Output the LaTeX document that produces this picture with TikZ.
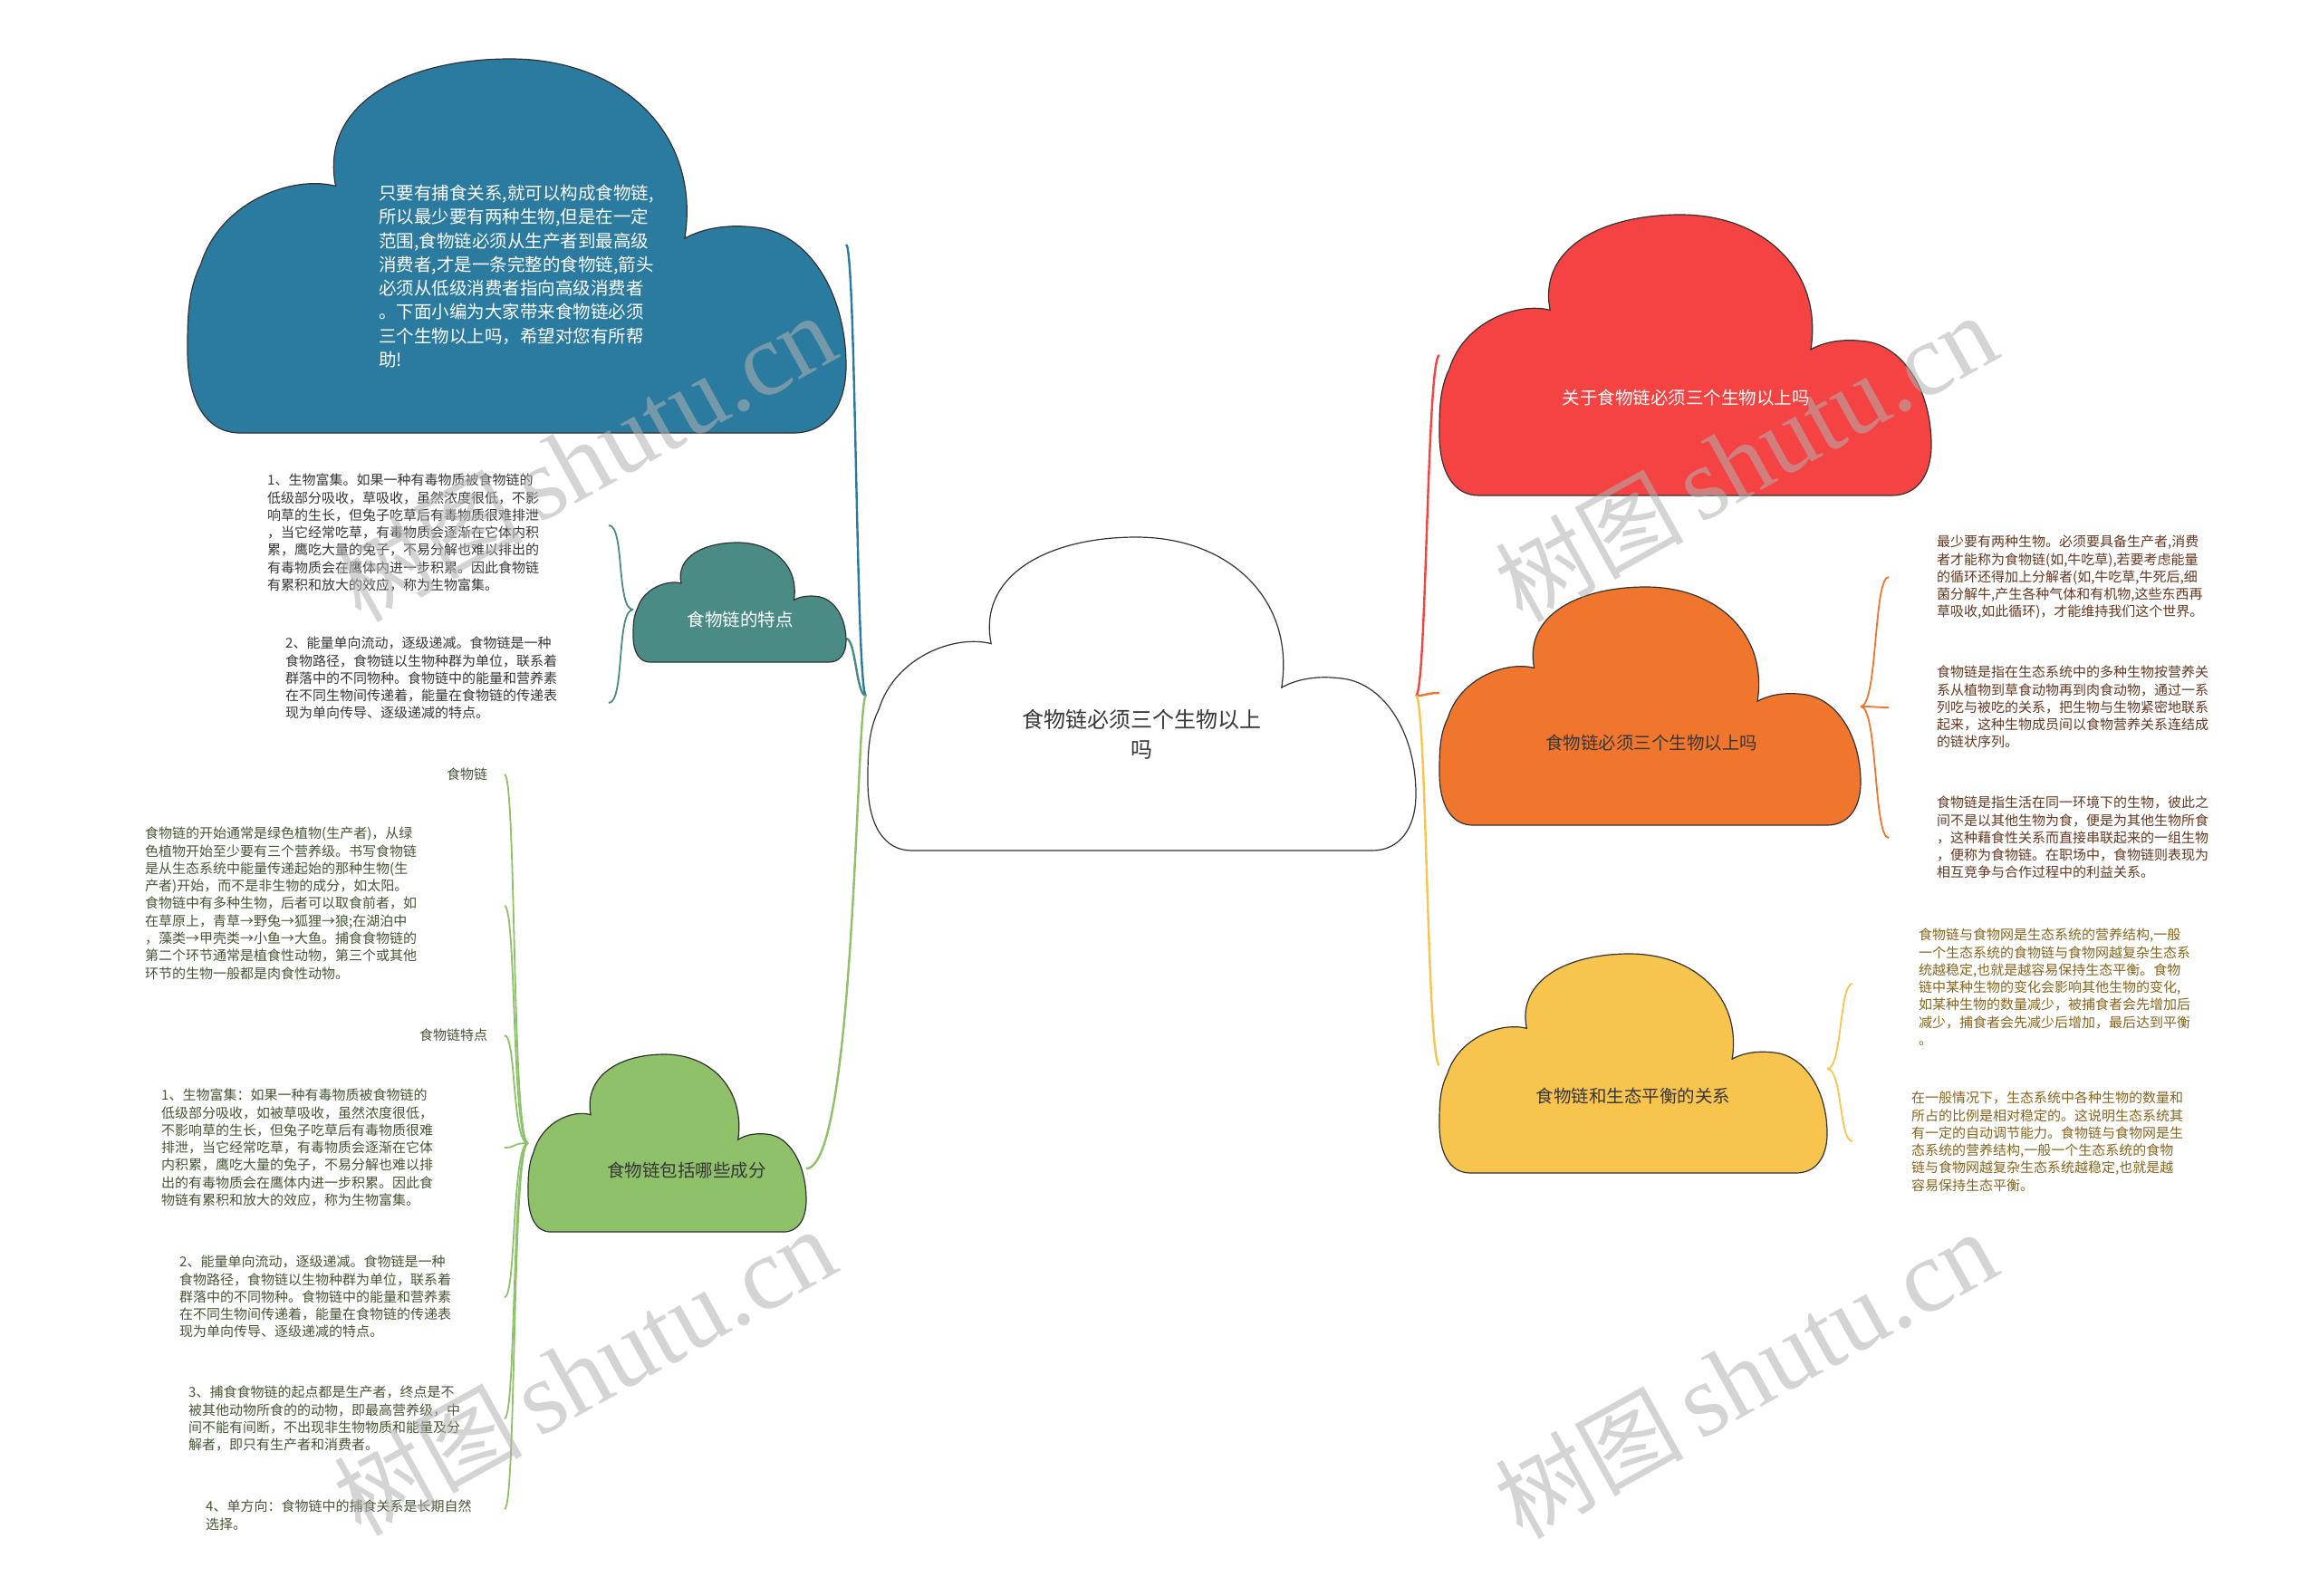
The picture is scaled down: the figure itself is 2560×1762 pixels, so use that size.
\documentclass[tikz,border=0pt]{standalone}
\usepackage{fontspec}
\setmainfont{Noto Sans CJK SC}
\newfontfamily\wmserif{Liberation Serif}
\definecolor{cblue}{RGB}{43,123,160}
\definecolor{cteal}{RGB}{74,139,133}
\definecolor{cgreen}{RGB}{143,192,106}
\definecolor{cred}{RGB}{245,66,66}
\definecolor{corange}{RGB}{240,118,45}
\definecolor{cyellow}{RGB}{247,196,78}
\definecolor{tdark}{RGB}{55,55,55}
\definecolor{tgreen}{RGB}{70,86,52}
\definecolor{tbrown}{RGB}{100,56,32}
\definecolor{tgold}{RGB}{135,100,28}
\definecolor{cedge}{RGB}{50,50,50}
\newcommand{\mycloud}[5]{%
  \begin{scope}[shift={(#1,#2)},xscale=#3,yscale=#4]
    \path[#5] (0.08,1) -- (0.92,1)
      .. controls (0.97,1) and (1.0,0.93) .. (1.0,0.82)
      .. controls (1.0,0.62) and (0.94,0.46) .. (0.86,0.45)
      .. controls (0.81,0.44) and (0.775,0.46) .. (0.755,0.48)
      .. controls (0.78,0.2) and (0.66,0) .. (0.49,0)
      .. controls (0.33,0) and (0.2,0.12) .. (0.225,0.34)
      .. controls (0.16,0.31) and (0.05,0.38) .. (0.02,0.55)
      .. controls (0,0.62) and (0,0.7) .. (0,0.78)
      .. controls (0,0.92) and (0.03,1) .. (0.08,1) -- cycle;
  \end{scope}}
\tikzset{
  cloudedge/.style={draw=cedge,line width=1.2pt},
  small/.style={font=\fontsize{15}{19.3}\selectfont,align=left,inner sep=0pt,anchor=base west},
  lbl/.style={font=\fontsize{19.5}{26}\selectfont,align=center,inner sep=0pt},
  conn/.style={line width=2.4pt},
  wm/.style={text=black!30,opacity=0.55,rotate=29,inner sep=0pt}
}
\begin{document}
\begin{tikzpicture}[x=1pt,y=-1pt]
\useasboundingbox[fill=white] (0,0) rectangle (2560,1762);

% ---------- connectors from the centre ----------
\coordinate (CL) at (956,768);
\coordinate (CR) at (1563,768);
\coordinate (eBlue) at (934,270);
\coordinate (eTeal) at (934,705);
\coordinate (eGreen) at (890,1290);
\coordinate (eRed) at (1589,392);
\coordinate (eOrange) at (1589,765);
\coordinate (eYellow) at (1589,1176);
\draw[conn,cblue] (CL) .. controls (945,768) and (945,270) .. (eBlue);
\draw[conn,cteal] (CL) .. controls (945,768) and (945,705) .. (eTeal);
\draw[conn,cgreen] (CL) .. controls (945,768) and (945,1290) .. (eGreen);
\draw[conn,cred] (CR) .. controls (1575,768) and (1575,392) .. (eRed);
\draw[conn,corange] (CR) .. controls (1575,768) and (1575,765) .. (eOrange);
\draw[conn,cyellow] (CR) .. controls (1575,768) and (1575,1176) .. (eYellow);

% ---------- clouds ----------
\mycloud{958}{593}{605}{346}{cloudedge,fill=white}
\mycloud{207}{65}{727}{413}{cloudedge,fill=cblue}
\mycloud{699}{599}{235}{132}{cloudedge,fill=cteal}
\mycloud{583}{1164}{307}{196}{cloudedge,fill=cgreen}
\mycloud{1589}{237}{543}{310}{cloudedge,fill=cred}
\mycloud{1589}{648}{465}{263}{cloudedge,fill=corange}
\mycloud{1589}{1053}{428}{242}{cloudedge,fill=cyellow}

% ---------- cloud labels ----------
\node[lbl,font=\fontsize{24}{33}\selectfont,text=tdark] (center) at (1260,811) {食物链必须三个生物以上\\吗};
\node[font=\fontsize{19.5}{26.3}\selectfont,align=left,inner sep=0pt,anchor=base west,text=white] (intro) at (418,404.5) {只要有捕食关系,就可以构成食物链,\\所以最少要有两种生物,但是在一定\\范围,食物链必须从生产者到最高级\\消费者,才是一条完整的食物链,箭头\\必须从低级消费者指向高级消费者\\。下面小编为大家带来食物链必须\\三个生物以上吗，希望对您有所帮\\助!};
\node[lbl,text=white] (teal) at (817,684) {食物链的特点};
\node[lbl,text=tdark] (green) at (758,1292) {食物链包括哪些成分};
\node[lbl,text=white] (red) at (1861,439) {关于食物链必须三个生物以上吗};
\node[lbl,text=tdark] (orange) at (1823,820) {食物链必须三个生物以上吗};
\node[lbl,text=tdark] (yellow) at (1803,1210) {食物链和生态平衡的关系};

% ---------- teal children (anchor = baseline of last line) ----------
\node[small,text=tdark] (t1) at (295,651.5) {1、生物富集。如果一种有毒物质被食物链的\\低级部分吸收，草吸收，虽然浓度很低，不影\\响草的生长，但兔子吃草后有毒物质很难排泄\\，当它经常吃草，有毒物质会逐渐在它体内积\\累，鹰吃大量的兔子，不易分解也难以排出的\\有毒物质会在鹰体内进一步积累。因此食物链\\有累积和放大的效应，称为生物富集。};
\node[small,text=tdark] (t2) at (315,792.9) {2、能量单向流动，逐级递减。食物链是一种\\食物路径，食物链以生物种群为单位，联系着\\群落中的不同物种。食物链中的能量和营养素\\在不同生物间传递着，能量在食物链的传递表\\现为单向传导、逐级递减的特点。};
\coordinate (tb1) at (672,580);
\coordinate (tb2) at (672,776);
\coordinate (TLc) at (699,673);
\draw[conn,cteal,line width=1.8pt] (TLc) .. controls (680,673) and (690,580) .. (tb1);
\draw[conn,cteal,line width=1.8pt] (TLc) .. controls (680,673) and (690,776) .. (tb2);

% ---------- green children ----------
\node[small,text=tgreen] (g0) at (493,860.7) {食物链};
\node[small,text=tgreen] (gd) at (160,1080.1) {食物链的开始通常是绿色植物(生产者)，从绿\\色植物开始至少要有三个营养级。书写食物链\\是从生态系统中能量传递起始的那种生物(生\\产者)开始，而不是非生物的成分，如太阳。\\食物链中有多种生物，后者可以取食前者，如\\在草原上，青草→野兔→狐狸→狼;在湖泊中\\，藻类→甲壳类→小鱼→大鱼。捕食食物链的\\第二个环节通常是植食性动物，第三个或其他\\环节的生物一般都是肉食性动物。};
\node[small,text=tgreen] (gf) at (463,1148.7) {食物链特点};
\node[small,text=tgreen] (g1) at (178,1330.5) {1、生物富集：如果一种有毒物质被食物链的\\低级部分吸收，如被草吸收，虽然浓度很低，\\不影响草的生长，但兔子吃草后有毒物质很难\\排泄，当它经常吃草，有毒物质会逐渐在它体\\内积累，鹰吃大量的兔子，不易分解也难以排\\出的有毒物质会在鹰体内进一步积累。因此食\\物链有累积和放大的效应，称为生物富集。};
\node[small,text=tgreen] (g2) at (198,1475.9) {2、能量单向流动，逐级递减。食物链是一种\\食物路径，食物链以生物种群为单位，联系着\\群落中的不同物种。食物链中的能量和营养素\\在不同生物间传递着，能量在食物链的传递表\\现为单向传导、逐级递减的特点。};
\node[small,text=tgreen] (g3) at (208,1600.6) {3、捕食食物链的起点都是生产者，终点是不\\被其他动物所食的的动物，即最高营养级，中\\间不能有间断，不出现非生物物质和能量及分\\解者，即只有生产者和消费者。};
\node[small,text=tgreen] (g4) at (227,1688) {4、单方向：食物链中的捕食关系是长期自然\\选择。};
\coordinate (GLc) at (583,1262);
\foreach \yy/\nm in {855/a,1000/b,1143/c,1267/d,1432/e,1566/f,1666/g}{
  \coordinate (gb\nm) at (557,\yy);
  \draw[conn,cgreen,line width=1.8pt] (GLc) .. controls (565,1262) and (570,\yy) .. (gb\nm);
}

% ---------- orange children ----------
\node[small,text=tbrown] (o1) at (2138,680.9) {最少要有两种生物。必须要具备生产者,消费\\者才能称为食物链(如,牛吃草),若要考虑能量\\的循环还得加上分解者(如,牛吃草,牛死后,细\\菌分解牛,产生各种气体和有机物,这些东西再\\草吸收,如此循环)，才能维持我们这个世界。};
\node[small,text=tbrown] (o2) at (2138,824.9) {食物链是指在生态系统中的多种生物按营养关\\系从植物到草食动物再到肉食动物，通过一系\\列吃与被吃的关系，把生物与生物紧密地联系\\起来，这种生物成员间以食物营养关系连结成\\的链状序列。};
\node[small,text=tbrown] (o3) at (2138,968.9) {食物链是指生活在同一环境下的生物，彼此之\\间不是以其他生物为食，便是为其他生物所食\\，这种藉食性关系而直接串联起来的一组生物\\，便称为食物链。在职场中，食物链则表现为\\相互竞争与合作过程中的利益关系。};
\coordinate (ORc) at (2054,780);
\foreach \yy/\nm in {637/a,781/b,925/c}{
  \coordinate (ob\nm) at (2085,\yy);
  \draw[conn,corange,line width=1.8pt] (ORc) .. controls (2073,780) and (2068,\yy) .. (ob\nm);
}

% ---------- yellow children ----------
\node[small,text=tgold] (y1) at (2118,1153.5) {食物链与食物网是生态系统的营养结构,一般\\一个生态系统的食物链与食物网越复杂生态系\\统越稳定,也就是越容易保持生态平衡。食物\\链中某种生物的变化会影响其他生物的变化,\\如某种生物的数量减少，被捕食者会先增加后\\减少，捕食者会先减少后增加，最后达到平衡\\。};
\node[small,text=tgold] (y2) at (2110,1314.2) {在一般情况下，生态系统中各种生物的数量和\\所占的比例是相对稳定的。这说明生态系统其\\有一定的自动调节能力。食物链与食物网是生\\态系统的营养结构,一般一个生态系统的食物\\链与食物网越复杂生态系统越稳定,也就是越\\容易保持生态平衡。};
\coordinate (YRc) at (2017,1180);
\foreach \yy/\nm in {1086/a,1260/b}{
  \coordinate (yb\nm) at (2045,\yy);
  \draw[conn,cyellow,line width=1.8pt] (YRc) .. controls (2034,1180) and (2030,\yy) .. (yb\nm);
}

% ---------- watermarks ----------
\foreach \wx/\wy/\nm in {645/506/a,1927/506/b,645/1515/c,1927/1518/d}{
  \node[wm] (wm\nm) at (\wx,\wy) {\fontsize{104}{104}\selectfont 树图\,{\wmserif\fontsize{114}{114}\selectfont shutu.cn}};
}
\end{tikzpicture}
\end{document}
